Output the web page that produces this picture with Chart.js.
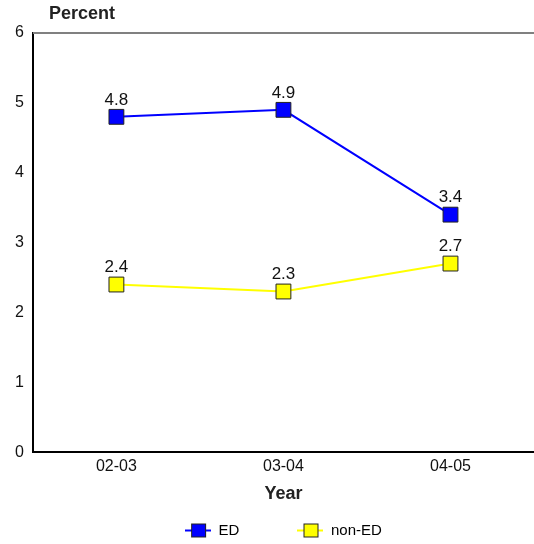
<!DOCTYPE html>
<html>
<head>
<meta charset="utf-8">
<script src="https://cdn.jsdelivr.net/npm/chart.js@4"></script>
<style>
  body { margin: 0; background: #fff; }
  #wrap { width: 534px; height: 544px; }
</style>
</head>
<body>
<div id="wrap"><canvas id="chart-area" width="534" height="544"></canvas></div>
<script>
const anos = ['02-03', '03-04', '04-05'];
const ed = [4.8, 4.9, 3.4];
const nonEd = [2.4, 2.3, 2.7];
const yTicks = [0, 1, 2, 3, 4, 5, 6];

const fonte = '"Liberation Sans", Arial, sans-serif';

// marcador da legenda: linha com quadrado no meio
function marcadorLegenda(cor) {
    let c = document.createElement('canvas');
    c.width = 26;
    c.height = 16;
    let g = c.getContext('2d');
    g.strokeStyle = cor;
    g.lineWidth = 2;
    g.beginPath();
    g.moveTo(0, 8);
    g.lineTo(26, 8);
    g.stroke();
    g.fillStyle = cor;
    g.fillRect(6, 1, 15, 14);
    g.strokeStyle = '#222';
    g.lineWidth = 1;
    g.strokeRect(6.5, 1.5, 14, 13);
    return c;
}

const extras = {
    id: 'extras',
    afterLayout(chart) {
        // legenda centrada sob a area do grafico
        chart.legend.left = chart.chartArea.left;
        chart.legend.right = chart.chartArea.right;
    },
    afterDraw(chart) {
        const ctx = chart.ctx;
        const a = chart.chartArea;
        ctx.save();
        // linha de cima cinza
        ctx.strokeStyle = '#808080';
        ctx.lineWidth = 2;
        ctx.beginPath();
        ctx.moveTo(a.left, a.top);
        ctx.lineTo(chart.width, a.top);
        ctx.stroke();
        // titulo do eixo y
        ctx.fillStyle = '#222';
        ctx.font = 'bold 18px ' + fonte;
        ctx.textAlign = 'left';
        ctx.textBaseline = 'middle';
        ctx.fillText('Percent', 49, 14);
        // valores sobre os pontos
        ctx.fillStyle = '#111';
        ctx.font = '17px ' + fonte;
        ctx.textAlign = 'center';
        ctx.textBaseline = 'middle';
        chart.data.datasets.forEach((ds, i) => {
            chart.getDatasetMeta(i).data.forEach((p, j) => {
                ctx.fillText(ds.data[j].toFixed(1), p.x, p.y - 17);
            });
        });
        ctx.restore();
    }
};

function serie(rotulo, valores, cor) {
    return {
        label: rotulo,
        data: valores,
        borderColor: cor,
        backgroundColor: cor,
        borderWidth: 2,
        pointStyle: 'rect',
        pointRadius: 10.5,
        pointBorderColor: '#222',
        pointBorderWidth: 1,
        pointBackgroundColor: cor,
        tension: 0
    };
}

let config = {
    type: 'line',
    data: {
        labels: anos,
        datasets: [serie('ED', ed, '#0000ff'), serie('non-ED', nonEd, '#ffff00')]
    },
    options: {
        responsive: false,
        animation: false,
        layout: { autoPadding: false, padding: { top: 33, left: 6, right: 0, bottom: -4 } },
        scales: {
            x: {
                offset: true,
                grid: { display: false, drawTicks: false },
                border: { color: '#000', width: 2 },
                ticks: { color: '#111', font: { size: 16, family: fonte }, padding: 5 },
                title: { display: true, text: 'Year', color: '#222', font: { size: 18, weight: 'bold', family: fonte }, padding: { top: 2, bottom: 10 } }
            },
            y: {
                min: 0,
                max: 6,
                afterBuildTicks: axis => { axis.ticks = yTicks.map(v => ({ value: v })); },
                grid: { display: false, drawTicks: false },
                border: { color: '#000', width: 2 },
                ticks: { color: '#111', font: { size: 16, family: fonte }, padding: 9 }
            }
        },
        plugins: {
            legend: {
                position: 'bottom',
                labels: {
                    usePointStyle: true,
                    pointStyleWidth: 26,
                    color: '#111',
                    font: { size: 15, family: fonte },
                    padding: 8,
                    generateLabels: chart => chart.data.datasets.map((ds, i) => ({
                        // espaços no fim para afastar os itens como no original
                        text: i === 0 ? ds.label + '\u00a0'.repeat(12) : ds.label,
                        pointStyle: marcadorLegenda(ds.backgroundColor),
                        fillStyle: ds.backgroundColor,
                        strokeStyle: ds.borderColor,
                        lineWidth: 0,
                        datasetIndex: i
                    }))
                }
            },
            tooltip: { enabled: false }
        }
    },
    plugins: [extras]
};

let ctx = document.getElementById('chart-area').getContext('2d');
window.myLine = new Chart(ctx, config);
</script>
</body>
</html>
